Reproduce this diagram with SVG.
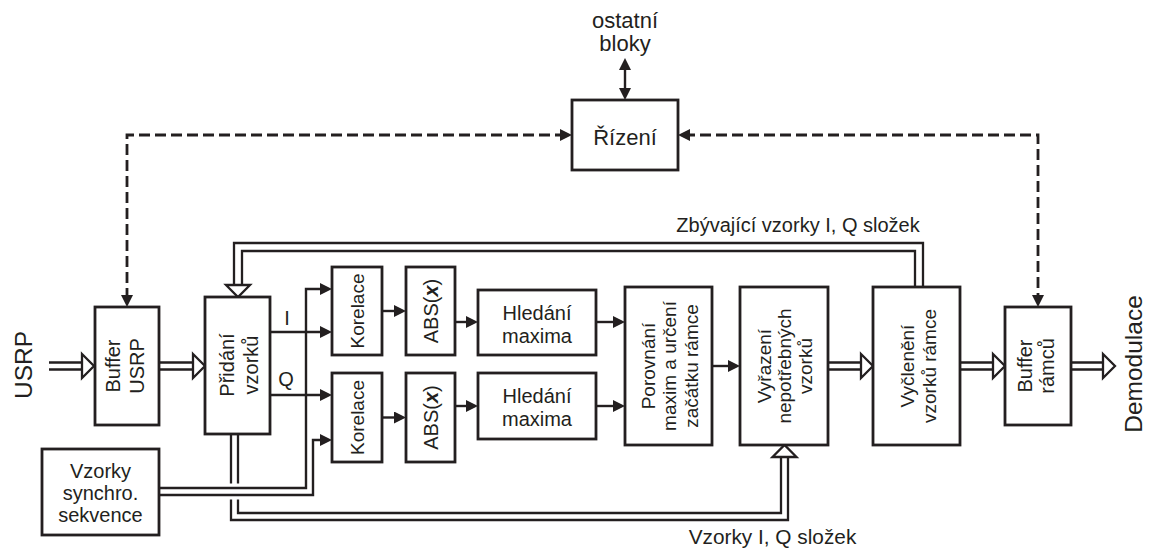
<svg xmlns="http://www.w3.org/2000/svg" width="1149" height="551" viewBox="0 0 1149 551">
  <style>
    text { font-family: "Liberation Sans", Arial, sans-serif; fill: #231f20; }
    .box { fill: #ffffff; stroke: #231f20; stroke-width: 2.8; }
    .ln { fill: none; stroke: #231f20; stroke-width: 2.4; }
    .dash { fill: none; stroke: #231f20; stroke-width: 2.8; stroke-dasharray: 11 5; }
    .dbl { fill: none; stroke: #231f20; stroke-width: 2.3; }
    .hol { fill: #ffffff; stroke: #231f20; stroke-width: 2.3; stroke-linejoin: miter; }
    .t20 { font-size: 20px; }
    .t19 { font-size: 19px; }
    .t22 { font-size: 22px; }
    .big { font-size: 24.5px; }
  </style>
  <defs>
    <marker id="ah" viewBox="0 0 12 12" markerWidth="12" markerHeight="12" markerUnits="userSpaceOnUse" refX="6" refY="6" orient="auto-start-reverse">
      <path d="M0,0 L12,6 L0,12 z" fill="#231f20"/>
    </marker>
  </defs>

  <rect width="1149" height="551" fill="#ffffff"/>

  <!-- connectors -->
  <g id="connectors">
    <!-- control (dashed) -->
    <path class="dash" d="M566,135 H127 V301" marker-start="url(#ah)" marker-end="url(#ah)"/>
    <path class="dash" d="M684,135 H1038 V301" marker-start="url(#ah)" marker-end="url(#ah)"/>
    <path class="ln" stroke-width="3" d="M625,64 V94" marker-start="url(#ah)" marker-end="url(#ah)"/>

    <!-- I / Q branches -->
    <path class="ln" d="M270,332 H326" marker-end="url(#ah)"/>
    <path class="ln" d="M270,395 H326" marker-end="url(#ah)"/>
    <path class="ln" d="M382,311 H400" marker-end="url(#ah)"/>
    <path class="ln" d="M382,417.5 H400" marker-end="url(#ah)"/>
    <path class="ln" d="M455,322 H472" marker-end="url(#ah)"/>
    <path class="ln" d="M455,406 H472" marker-end="url(#ah)"/>
    <path class="ln" d="M596,322 H619" marker-end="url(#ah)"/>
    <path class="ln" d="M596,406 H619" marker-end="url(#ah)"/>
    <path class="ln" d="M712,366 H734" marker-end="url(#ah)"/>

    <!-- sample streams (double lines) -->
    <path class="dbl" d="M49,362.5 H84 M49,369.5 H84"/>
    <polygon class="hol" points="82,354 94,366 82,378"/>
    <path class="dbl" d="M159,362.5 H195 M159,369.5 H195"/>
    <polygon class="hol" points="193,354 205,366 193,378"/>
    <path class="dbl" d="M828,362.5 H864 M828,369.5 H864"/>
    <polygon class="hol" points="861,354 873,366 861,378"/>
    <path class="dbl" d="M960,362.5 H995 M960,369.5 H995"/>
    <polygon class="hol" points="993,354 1005,366 993,378"/>
    <path class="dbl" d="M1071,362.5 H1105 M1071,369.5 H1105"/>
    <polygon class="hol" points="1103,354 1115,366 1103,378"/>

    <!-- remaining samples fed back to the input block -->
    <path class="dbl" d="M923,287 V243 H234 V287"/>
    <path class="dbl" d="M915,287 V251 H242 V287"/>
    <polygon class="hol" points="226,285 250,285 238,297"/>

    <!-- I, Q samples to the discard block -->
    <path class="dbl" d="M231,434 V520 H788 V455"/>
    <path class="dbl" d="M238,434 V513 H781 V455"/>
    <polygon class="hol" points="772.5,457 796.5,457 784.5,445"/>

    <!-- bridge where the sync lines pass over -->
    <rect x="226" y="483.5" width="17" height="16" fill="#ffffff"/>

    <!-- synchronisation sequence to both correlators -->
    <path class="ln" d="M159,488 H306 V289 H326" marker-end="url(#ah)"/>
    <path class="ln" d="M159,495 H313 V440 H326" marker-end="url(#ah)"/>
  </g>

  <!-- labels on connectors -->
  <text class="t20" x="287" y="325" text-anchor="middle">I</text>
  <text class="t20" x="286" y="386" text-anchor="middle">Q</text>
  <text class="t22" text-anchor="middle"><tspan x="625" y="28">ostatní</tspan><tspan x="625" y="51">bloky</tspan></text>
  <text x="798" y="232" text-anchor="middle" style="font-size:20px">Zbývající vzorky I, Q složek</text>
  <text x="772.5" y="544" text-anchor="middle" style="font-size:20.8px">Vzorky I, Q složek</text>
  <text class="big" transform="translate(23,365) rotate(-90)" text-anchor="middle" y="9">USRP</text>
  <text class="big" transform="translate(1133,364) rotate(-90)" text-anchor="middle" y="9">Demodulace</text>

  <!-- nodes -->
  <g id="rizeni">
    <rect class="box" x="572" y="100" width="106" height="70"/>
    <text class="t22" x="625" y="145" text-anchor="middle">Řízení</text>
  </g>

  <g id="buffer-usrp">
    <rect class="box" x="95" y="307" width="64" height="118"/>
    <text class="t20" transform="translate(127,366) rotate(-90)" text-anchor="middle"><tspan x="0" y="-7">Buffer</tspan><tspan x="0" y="16.5">USRP</tspan></text>
  </g>

  <g id="pridani-vzorku">
    <rect class="box" x="205" y="297" width="65" height="137"/>
    <text class="t20" transform="translate(237.5,365) rotate(-90)" text-anchor="middle"><tspan x="0" y="-4">Přidání</tspan><tspan x="0" y="20">vzorků</tspan></text>
  </g>

  <g id="vzorky-synchro">
    <rect class="box" x="42" y="449" width="117" height="86"/>
    <text class="t20" text-anchor="middle"><tspan x="100.5" y="478">Vzorky</tspan><tspan x="100.5" y="500">synchro.</tspan><tspan x="100.5" y="522">sekvence</tspan></text>
  </g>

  <g id="korelace-1">
    <rect class="box" x="332" y="267" width="50" height="88"/>
    <text class="t19" transform="translate(357,311) rotate(-90)" text-anchor="middle" y="7">Korelace</text>
  </g>

  <g id="korelace-2">
    <rect class="box" x="332" y="373" width="50" height="89"/>
    <text class="t19" transform="translate(357,417.5) rotate(-90)" text-anchor="middle" y="7">Korelace</text>
  </g>

  <g id="abs-1">
    <rect class="box" x="406" y="267" width="49" height="88"/>
    <text class="t20" transform="translate(430.5,311) rotate(-90)" text-anchor="middle" y="7">ABS(<tspan font-weight="bold" font-style="italic">x</tspan>)</text>
  </g>

  <g id="abs-2">
    <rect class="box" x="406" y="373" width="49" height="89"/>
    <text class="t20" transform="translate(430.5,417.5) rotate(-90)" text-anchor="middle" y="7">ABS(<tspan font-weight="bold" font-style="italic">x</tspan>)</text>
  </g>

  <g id="hledani-1">
    <rect class="box" x="478" y="290" width="118" height="65"/>
    <text class="t20" text-anchor="middle"><tspan x="537" y="319.5">Hledání</tspan><tspan x="537" y="342.5">maxima</tspan></text>
  </g>

  <g id="hledani-2">
    <rect class="box" x="478" y="373" width="118" height="66"/>
    <text class="t20" text-anchor="middle"><tspan x="537" y="403">Hledání</tspan><tspan x="537" y="426">maxima</tspan></text>
  </g>

  <g id="porovnani">
    <rect class="box" x="625" y="287" width="87" height="158"/>
    <text class="t19" transform="translate(668.5,366) rotate(-90)" text-anchor="middle"><tspan x="0" y="-14">Porovnání</tspan><tspan x="0" y="7.5">maxim a určení</tspan><tspan x="0" y="29">začátku rámce</tspan></text>
  </g>

  <g id="vyrazeni">
    <rect class="box" x="740" y="287" width="88" height="158"/>
    <text class="t19" transform="translate(784,366) rotate(-90)" text-anchor="middle"><tspan x="0" y="-13.5">Vyřazení</tspan><tspan x="0" y="7">nepotřebných</tspan><tspan x="0" y="27.5">vzorků</tspan></text>
  </g>

  <g id="vycleneni">
    <rect class="box" x="873" y="287" width="87" height="158"/>
    <text class="t19" transform="translate(916.5,366) rotate(-90)" text-anchor="middle"><tspan x="0" y="-2.5">Vyčlenění</tspan><tspan x="0" y="19.5">vzorků rámce</tspan></text>
  </g>

  <g id="buffer-ramcu">
    <rect class="box" x="1005" y="307" width="66" height="118"/>
    <text class="t20" transform="translate(1038,366) rotate(-90)" text-anchor="middle"><tspan x="0" y="-6.5">Buffer</tspan><tspan x="0" y="15.5">rámců</tspan></text>
  </g>
</svg>
